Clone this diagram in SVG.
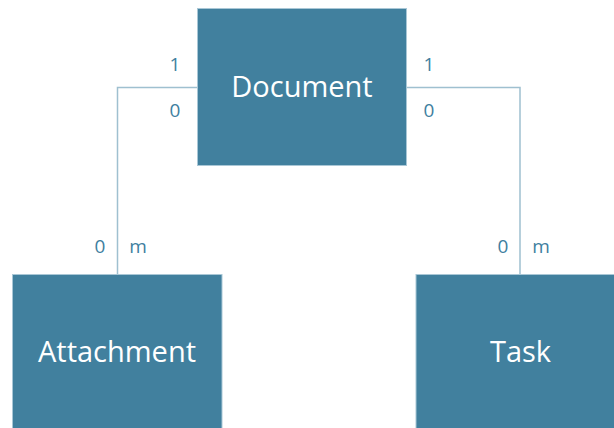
<svg xmlns="http://www.w3.org/2000/svg" width="614" height="428" viewBox="0 0 614 428">
<style>
.box{fill:#41809e;stroke:#a9c7d6;stroke-width:1}
.name{font-family:"Open Sans","Liberation Sans",sans-serif;font-size:29px;fill:#ffffff;text-anchor:middle}
.card{font-family:"Open Sans","Liberation Sans",sans-serif;font-size:19px;fill:#3f7fa0;text-anchor:middle}
.conn{fill:none;stroke:#9fc0d0;stroke-width:1.5}
</style>
<rect width="614" height="428" fill="#ffffff"/>
<g id="connectors">
<path class="conn" d="M197,87.5 H117.5 V274"/>
<path class="conn" d="M407,87.5 H520 V274"/>
</g>
<g id="labels">
<text class="card" x="175" y="71">1</text>
<text class="card" x="175" y="116.5">0</text>
<text class="card" x="429" y="71">1</text>
<text class="card" x="429" y="116.5">0</text>
<text class="card" x="100" y="253">0</text>
<text class="card" x="138" y="253">m</text>
<text class="card" x="503" y="253">0</text>
<text class="card" x="541" y="253">m</text>
</g>
<g id="document">
<rect class="box" x="197.5" y="8.5" width="209" height="157"/>
<text class="name" x="302" y="97">Document</text>
</g>
<g id="attachment">
<rect class="box" x="12.5" y="274.5" width="209.5" height="160"/>
<text class="name" x="117" y="362">Attachment</text>
</g>
<g id="task">
<rect class="box" x="416" y="274.5" width="209" height="160"/>
<text class="name" x="520.5" y="362">Task</text>
</g>
</svg>
